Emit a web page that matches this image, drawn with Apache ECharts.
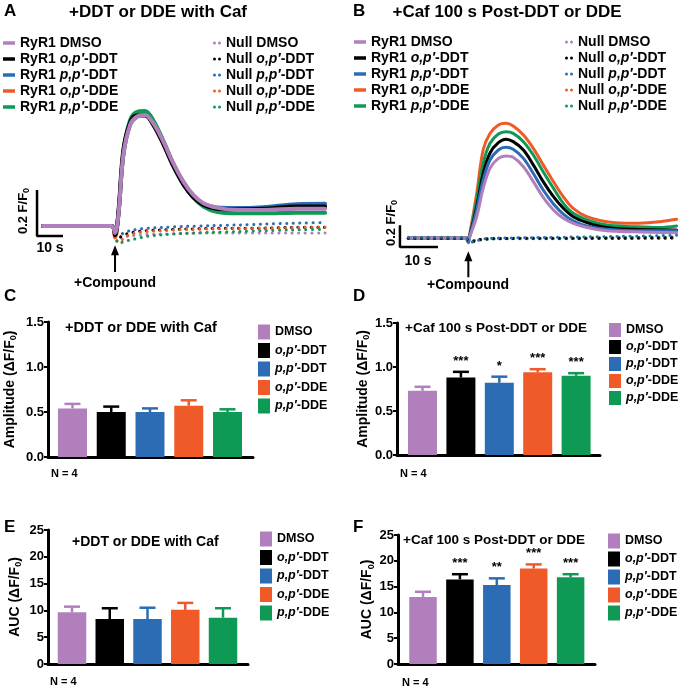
<!DOCTYPE html>
<html>
<head>
<meta charset="utf-8">
<script src="https://cdn.jsdelivr.net/npm/echarts@6/dist/echarts.min.js"></script>
<style>
html, body { margin: 0; padding: 0; background: #fff; }
#main { width: 680px; height: 691px; }
</style>
</head>
<body>
<div id="main"></div>
<script>
var FONT = '"Liberation Sans", Arial, Helvetica, sans-serif';

var groups = ['DMSO', 'o,p′-DDT', 'p,p′-DDT', 'o,p′-DDE', 'p,p′-DDE'];
var colors = ['#b27fbd', '#000000', '#2b6cb5', '#f05a28', '#0e9a55'];

// panel A traces (s, F/F0 above baseline)
var tA = [0, 26.4, 27.7, 29, 30.9, 33.5, 36, 39.2, 42.4, 46.3, 50.1, 54, 57.8, 61.7, 66.8, 74.5, 84.7, 97.6, 108.5];
var aDmso  = [0, 0, -0.03, 0.048, 0.31, 0.44, 0.475, 0.483, 0.447, 0.367, 0.273, 0.193, 0.135, 0.099, 0.08, 0.07, 0.07, 0.075, 0.075];
var aOpDDT = [0, 0, -0.04, 0.06, 0.33, 0.45, 0.48, 0.48, 0.44, 0.355, 0.26, 0.18, 0.125, 0.092, 0.075, 0.072, 0.075, 0.085, 0.085];
var aPpDDT = [0, 0, -0.03, 0.05, 0.31, 0.44, 0.475, 0.485, 0.45, 0.365, 0.27, 0.19, 0.13, 0.095, 0.08, 0.078, 0.082, 0.095, 0.097];
var aOpDDE = [0, 0, -0.05, 0.05, 0.31, 0.45, 0.48, 0.485, 0.45, 0.365, 0.27, 0.19, 0.13, 0.094, 0.077, 0.07, 0.072, 0.078, 0.08];
var aPpDDE = [0, 0, -0.03, 0.05, 0.32, 0.46, 0.495, 0.5, 0.46, 0.37, 0.27, 0.185, 0.125, 0.085, 0.062, 0.055, 0.055, 0.058, 0.058];

var tAn = [27, 28, 29, 32, 36, 40, 50, 60, 70, 80, 90, 100, 108.5];
var nADmso  = [-0.01, -0.04, -0.05, -0.045, -0.04, -0.037, -0.034, -0.031, -0.03, -0.03, -0.03, -0.03, -0.03];
var nAOpDDT = [-0.01, -0.03, -0.05, -0.035, -0.025, -0.02, -0.015, -0.012, -0.01, -0.01, -0.008, -0.005, -0.005];
var nAPpDDT = [-0.01, -0.03, -0.04, -0.025, -0.015, -0.01, -0.004, 0, 0.003, 0.006, 0.01, 0.013, 0.015];
var nAOpDDE = [-0.01, -0.05, -0.07, -0.045, -0.03, -0.024, -0.018, -0.014, -0.012, -0.01, -0.008, -0.006, -0.005];
var nAPpDDE = [-0.01, -0.05, -0.075, -0.065, -0.055, -0.045, -0.035, -0.03, -0.026, -0.022, -0.019, -0.016, -0.015];

// panel B traces
var tB = [0, 15, 15.8, 16.2, 18, 19.7, 21.5, 23.7, 25.7, 27.6, 30.3, 32.9, 35.5, 38.2, 40.8, 43.4, 47, 52.2, 59.2, 66.2, 70.6];
var bDmso  = [0, 0, -0.01, 0.02, 0.2, 0.463, 0.648, 0.74, 0.762, 0.75, 0.663, 0.525, 0.38, 0.262, 0.185, 0.139, 0.1, 0.07, 0.06, 0.055, 0.052];
var bOpDDT = [0, 0, 0, 0.03, 0.29, 0.6, 0.79, 0.885, 0.917, 0.895, 0.818, 0.68, 0.525, 0.386, 0.278, 0.2, 0.145, 0.1, 0.083, 0.078, 0.077];
var bPpDDT = [0, 0, -0.04, 0.02, 0.262, 0.54, 0.725, 0.818, 0.843, 0.824, 0.74, 0.6, 0.447, 0.318, 0.225, 0.163, 0.114, 0.083, 0.07, 0.07, 0.07];
var bOpDDE = [0, 0, 0, 0.046, 0.417, 0.82, 0.97, 1.05, 1.065, 1.04, 0.956, 0.833, 0.68, 0.524, 0.385, 0.278, 0.2, 0.154, 0.139, 0.154, 0.176];
var bPpDDE = [0, 0, 0, 0.03, 0.355, 0.694, 0.88, 0.966, 0.987, 0.972, 0.895, 0.771, 0.617, 0.463, 0.324, 0.232, 0.17, 0.123, 0.108, 0.1, 0.114];

var tBn = [0, 15, 16.2, 17.5, 19, 22, 30, 40, 50, 60, 70.6];
var nBDmso  = [0, 0, -0.01, -0.02, -0.01, -0.005, -0.005, -0.005, 0, 0, 0];
var nBOpDDT = [0, 0, -0.02, -0.03, -0.01, -0.005, 0, 0, 0, 0.002, 0.005];
var nBPpDDT = [0.01, 0.01, -0.03, -0.035, -0.01, 0, 0.005, 0.01, 0.015, 0.02, 0.028];
var nBOpDDE = [0, 0, -0.01, -0.02, -0.01, 0, 0, 0, 0, 0, 0];
var nBPpDDE = [0, 0, -0.01, -0.02, -0.015, -0.005, 0, 0, 0.005, 0.008, 0.012];

// bar panels (mean, SEM)
var ampCaf = [0.54, 0.50, 0.50, 0.57, 0.50];
var ampCafErr = [0.05, 0.06, 0.04, 0.06, 0.03];
var ampPost = [0.73, 0.88, 0.82, 0.94, 0.90];
var ampPostErr = [0.045, 0.065, 0.07, 0.035, 0.03];
var ampPostStars = ['', '***', '*', '***', '***'];
var aucCaf = [9.65, 8.4, 8.4, 10.1, 8.65];
var aucCafErr = [1.05, 2.0, 2.1, 1.3, 1.75];
var aucPost = [13.0, 16.4, 15.3, 18.5, 16.8];
var aucPostErr = [1.0, 1.0, 1.3, 0.8, 0.6];
var aucPostStars = ['', '***', '**', '***', '***'];

var chart = echarts.init(document.getElementById('main'));

function zip(ts, vs) {
    return ts.map(function(t, k) { return [t, vs[k]]; });
}

var series = [];

function trace(name, g, ts, vs, color, width, dotted, z) {
    series.push({
        type: 'line',
        name: name,
        xAxisIndex: g,
        yAxisIndex: g,
        data: zip(ts, vs),
        smooth: 0.35,
        symbol: 'none',
        z: z,
        silent: true,
        itemStyle: { color: color },
        lineStyle: dotted ?
            { color: color, width: 3, type: [0.1, 6.5], cap: 'round' } :
            { color: color, width: width, cap: 'round', join: 'round' }
    });
}

// scale bar + arrow, drawn in data units
function annot(g, bar, arrow) {
    series.push({
        type: 'line', xAxisIndex: g, yAxisIndex: g, symbol: 'none', silent: true, z: 5,
        data: bar, lineStyle: { color: '#000', width: 2.5 }
    });
    series.push({
        type: 'line', xAxisIndex: g, yAxisIndex: g, silent: true, z: 5,
        data: [{ value: arrow[0], symbol: 'none' }, { value: arrow[1], symbol: 'triangle', symbolSize: [8, 10] }],
        lineStyle: { color: '#000', width: 2 },
        itemStyle: { color: '#000' }
    });
}

// panel A
var aSets = [aDmso, aOpDDT, aPpDDT, aOpDDE, aPpDDE];
var nASets = [nADmso, nAOpDDT, nAPpDDT, nAOpDDE, nAPpDDE];
nASets.forEach(function(v, i) { trace('Null ' + groups[i], 0, tAn, v, colors[i], 3, true, 2); });
[3, 2, 4, 1, 0].forEach(function(i) { trace('RyR1 ' + groups[i], 0, tA, aSets[i], colors[i], 4, false, 3); });
annot(0, [[-2.3, 0.157], [-2.3, -0.043], [7.7, -0.043]], [[27.7, -0.2], [27.7, -0.105]]);

// panel B
var bSets = [bDmso, bOpDDT, bPpDDT, bOpDDE, bPpDDE];
var nBSets = [nBDmso, nBOpDDT, nBPpDDT, nBOpDDE, nBPpDDE];
[3, 4, 1, 2, 0].forEach(function(i) { trace('RyR1 ' + groups[i], 1, tB, bSets[i], colors[i], 3, false, 2); });
[0, 3, 4, 1, 2].forEach(function(i) { trace('Null ' + groups[i], 1, tBn, nBSets[i], colors[i], 3, true, 3); });
annot(1, [[-2.2, 0.12], [-2.2, -0.08], [7.8, -0.08]], [[15.8, -0.36], [15.8, -0.165]]);

function barPanel(g, means, errs, stars, bw) {
    groups.forEach(function(name, i) {
        series.push({
            type: 'bar', name: name, xAxisIndex: g, yAxisIndex: g,
            barWidth: bw, barGap: '-100%', silent: true,
            data: [[i, means[i]]],
            itemStyle: { color: colors[i] }
        });
    });
    series.push({
        type: 'custom', xAxisIndex: g, yAxisIndex: g, z: 3, silent: true,
        data: means.map(function(m, i) { return [i, m, errs[i]]; }),
        renderItem: function(params, api) {
            var k = params.dataIndex;
            var x = api.value(0), m = api.value(1), e = api.value(2);
            var top = api.coord([x, m + e]);
            var base = api.coord([x, m]);
            var c = colors[k];
            var kids = [
                { type: 'line', shape: { x1: base[0], y1: base[1], x2: top[0], y2: top[1] }, style: { stroke: c, lineWidth: 2.5 } },
                { type: 'line', shape: { x1: top[0] - 8, y1: top[1], x2: top[0] + 8, y2: top[1] }, style: { stroke: c, lineWidth: 2.5 } }
            ];
            if (stars && stars[k]) {
                kids.push({
                    type: 'text', x: top[0], y: top[1] - 4,
                    style: { text: stars[k], textAlign: 'center', textVerticalAlign: 'bottom', font: 'bold 13px ' + FONT, fill: '#000' }
                });
            }
            return { type: 'group', children: kids };
        }
    });
}
barPanel(2, ampCaf, ampCafErr, null, 29);
barPanel(3, ampPost, ampPostErr, ampPostStars, 29);
barPanel(4, aucCaf, aucCafErr, null, 28.5);
barPanel(5, aucPost, aucPostErr, aucPostStars, 27.5);

var grids = [
    { left: 30, top: 99.5, width: 299, height: 177.1 },
    { left: 393.1, top: 108.7, width: 286.9, height: 175 },
    { left: 48, top: 322, width: 205, height: 135 },
    { left: 397, top: 323, width: 203, height: 132 },
    { left: 48, top: 530, width: 200, height: 134 },
    { left: 398, top: 535, width: 197, height: 129 }
];

var xAxes = [
    { gridIndex: 0, type: 'value', min: -5, max: 110, show: false },
    { gridIndex: 1, type: 'value', min: -4, max: 71.5, show: false }
];
var yAxes = [
    { gridIndex: 0, type: 'value', min: -0.22, max: 0.55, show: false },
    { gridIndex: 1, type: 'value', min: -0.42, max: 1.2, show: false }
];

var barX = [[-0.632, 4.658], [-0.664, 4.622], [-0.636, 4.662], [-0.678, 4.661]];
var barY = [
    { max: 1.5, interval: 0.5, name: 'Amplitude (ΔF/F{s|0})', gap: 30, dec: 1 },
    { max: 1.5, interval: 0.5, name: 'Amplitude (ΔF/F{s|0})', gap: 23, dec: 1 },
    { max: 25, interval: 5, name: 'AUC (ΔF/F{s|0})', gap: 25, dec: 0 },
    { max: 25, interval: 5, name: 'AUC (ΔF/F{s|0})', gap: 20, dec: 0 }
];
barX.forEach(function(r, k) {
    xAxes.push({
        gridIndex: k + 2, type: 'value', min: r[0], max: r[1],
        axisLine: { show: true, onZero: false, lineStyle: { color: '#000', width: 3 } },
        axisTick: { show: false }, axisLabel: { show: false }, splitLine: { show: false }
    });
    var y = barY[k];
    yAxes.push({
        gridIndex: k + 2, type: 'value', min: 0, max: y.max, interval: y.interval,
        name: y.name, nameLocation: 'middle', nameGap: y.gap, nameRotate: 90,
        nameTextStyle: {
            color: '#000', fontFamily: FONT, fontWeight: 'bold', fontSize: 14,
            rich: { s: { fontFamily: FONT, fontWeight: 'bold', fontSize: 9, verticalAlign: 'bottom', padding: [7, 0, 0, 0] } }
        },
        axisLine: { show: true, onZero: false, lineStyle: { color: '#000', width: 3 } },
        axisTick: { show: true, length: 4, lineStyle: { color: '#000', width: 2 } },
        axisLabel: {
            color: '#000', fontFamily: FONT, fontWeight: 'bold', fontSize: 13, margin: 4,
            formatter: function(v) { return v.toFixed(y.dec); }
        },
        splitLine: { show: false }
    });
});

function fmt(name) {
    return name.replace(/([op],p′)/, '{i|$1}');
}
var dots = 'path://M0,1.5a1.5,1.5 0 1,0 3,0a1.5,1.5 0 1,0 -3,0M5,1.5a1.5,1.5 0 1,0 3,0a1.5,1.5 0 1,0 -3,0';

function legendDef(names, left, top, icon, iw, ih, gap, fs) {
    return {
        data: names, left: left, top: top, orient: 'vertical', selectedMode: false,
        icon: icon, itemWidth: iw, itemHeight: ih, itemGap: gap, padding: 0,
        itemStyle: { borderWidth: 0 },
        formatter: fmt,
        textStyle: {
            color: '#000', fontFamily: FONT, fontWeight: 'bold', fontSize: fs, lineHeight: fs,
            rich: { i: { fontFamily: FONT, fontWeight: 'bold', fontStyle: 'italic', fontSize: fs, lineHeight: fs } }
        }
    };
}
var ryrNames = groups.map(function(g) { return 'RyR1 ' + g; });
var nullNames = groups.map(function(g) { return 'Null ' + g; });
var legends = [
    legendDef(ryrNames, 3, 36, 'rect', 12, 3.5, 2, 14),
    legendDef(nullNames, 213, 36, dots, 8, 3, 2, 14),
    legendDef(ryrNames, 354, 35, 'rect', 12, 3.5, 2, 14),
    legendDef(nullNames, 565, 35, dots, 8, 3, 2, 14),
    legendDef(groups, 258, 324.5, 'rect', 12, 15, 3.5, 12.5),
    legendDef(groups, 609, 323, 'rect', 12, 14, 3, 12.5),
    legendDef(groups, 260, 531.5, 'rect', 12, 15, 3.5, 12.5),
    legendDef(groups, 608, 533.5, 'rect', 12, 15, 3, 12.5)
];

function txt(s, x, y, size, align, rot) {
    return {
        type: 'text', x: x, y: y, rotation: rot || 0, silent: true,
        style: {
            text: s, fill: '#000', font: 'bold ' + size + 'px ' + FONT,
            textAlign: align || 'center', textVerticalAlign: 'middle',
            rich: { s: { font: 'bold 9px ' + FONT, verticalAlign: 'bottom', padding: [7, 0, 0, 0] } }
        }
    };
}

var graphics = [
    txt('A', 4, 11, 17, 'left'),
    txt('B', 353, 11, 17, 'left'),
    txt('C', 4, 296, 17, 'left'),
    txt('D', 353, 296, 17, 'left'),
    txt('E', 4, 527, 17, 'left'),
    txt('F', 353, 527, 17, 'left'),
    txt('+DDT or DDE with Caf', 158, 12, 17),
    txt('+Caf 100 s Post-DDT or DDE', 507, 12, 17),
    txt('+DDT or DDE with Caf', 65, 328, 14.5, 'left'),
    txt('+Caf 100 s Post-DDT or DDE', 405, 328, 13.5, 'left'),
    txt('+DDT or DDE with Caf', 72, 542, 14, 'left'),
    txt('+Caf 100 s Post-DDT or DDE', 403, 540, 13.5, 'left'),
    txt('N = 4', 51, 474, 11, 'left'),
    txt('N = 4', 400, 474, 11, 'left'),
    txt('N = 4', 50, 682, 11, 'left'),
    txt('N = 4', 402, 683, 11, 'left'),
    txt('+Compound', 115, 283, 14),
    txt('+Compound', 468, 285, 14),
    txt('10 s', 50, 248, 14),
    txt('10 s', 418, 261, 14),
    txt('0.2 F/F{s|0}', 23, 211, 13, 'center', Math.PI / 2),
    txt('0.2 F/F{s|0}', 391, 223, 13, 'center', Math.PI / 2)
];

chart.setOption({
    backgroundColor: '#fff',
    animation: false,
    grid: grids,
    xAxis: xAxes,
    yAxis: yAxes,
    legend: legends,
    graphic: graphics,
    series: series
});
</script>
</body>
</html>
